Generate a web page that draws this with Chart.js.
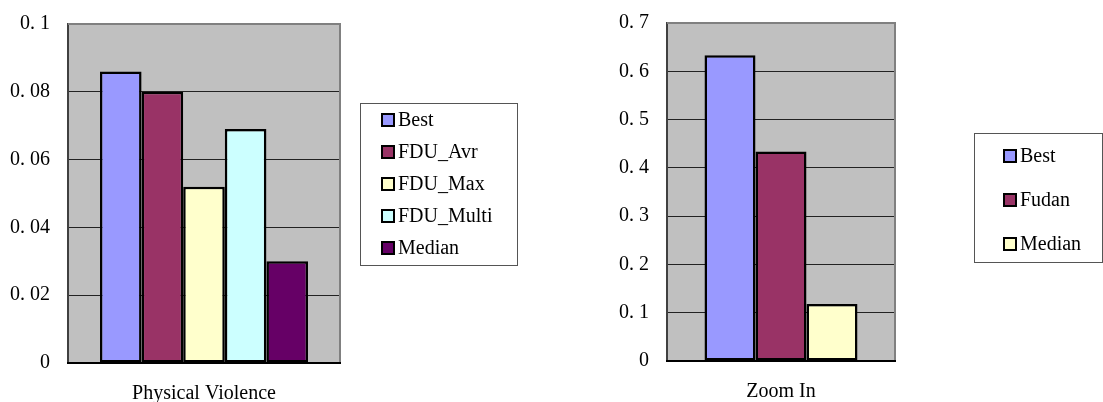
<!DOCTYPE html>
<html>
<head>
<meta charset="utf-8">
<script src="https://cdn.jsdelivr.net/npm/chart.js@4/dist/chart.umd.min.js"></script>
<style>
  html, body { margin: 0; padding: 0; background: #ffffff; }
  body { width: 1103px; height: 402px; position: relative; overflow: hidden; }
  canvas { position: absolute; top: 0; }
  #c1 { left: 0; }
  #c2 { left: 551px; }
</style>
</head>
<body>
<canvas id="c1" width="551" height="402"></canvas>
<canvas id="c2" width="552" height="402"></canvas>
<script>
// ---------- data ----------
const pvCategories = ['Physical Violence'];
const pvSeries = ['Best', 'FDU_Avr', 'FDU_Max', 'FDU_Multi', 'Median'];
const pvValues = [0.086, 0.080, 0.052, 0.069, 0.030];
const pvTickLabels = ['0', '0. 02', '0. 04', '0. 06', '0. 08', '0. 1'];

const ziCategories = ['Zoom In'];
const ziSeries = ['Best', 'Fudan', 'Median'];
const ziValues = [0.633, 0.434, 0.118];
const ziTickLabels = ['0', '0. 1', '0. 2', '0. 3', '0. 4', '0. 5', '0. 6', '0. 7'];

// ---------- styles ----------
const pvColors = ['#9999FF', '#993366', '#FFFFCC', '#CCFFFF', '#660066'];
const ziColors = ['#9999FF', '#993366', '#FFFFCC'];
const FONT = "'Liberation Serif', 'Times New Roman', serif";

const plotFrame = {
  id: 'plotFrame',
  beforeDraw(chart) {
    const a = chart.chartArea, ctx = chart.ctx;
    ctx.save();
    ctx.fillStyle = '#C0C0C0';
    ctx.fillRect(a.left, a.top, a.right - a.left, a.bottom - a.top);
    ctx.restore();
  },
  afterDraw(chart) {
    const a = chart.chartArea, ctx = chart.ctx;
    ctx.save();
    ctx.strokeStyle = '#808080';
    ctx.lineWidth = 2;
    ctx.beginPath();
    ctx.moveTo(a.left, a.top);
    ctx.lineTo(a.right, a.top);
    ctx.lineTo(a.right, a.bottom);
    ctx.stroke();
    ctx.strokeStyle = '#000';
    ctx.beginPath();
    ctx.moveTo(a.left - 1, a.bottom);
    ctx.lineTo(a.right + 1, a.bottom);
    ctx.stroke();
    ctx.restore();
  }
};

const boxLegend = {
  id: 'boxLegend',
  afterDraw(chart, args, o) {
    const ctx = chart.ctx;
    ctx.save();
    ctx.strokeStyle = '#555';
    ctx.lineWidth = 1;
    ctx.strokeRect(o.left + 0.5, o.top + 0.5, o.width, o.height);
    ctx.font = '20px ' + FONT;
    ctx.textBaseline = 'middle';
    ctx.textAlign = 'left';
    chart.data.datasets.forEach((ds, i) => {
      const cy = o.firstRow + i * o.rowGap;
      ctx.fillStyle = ds.backgroundColor;
      ctx.fillRect(o.swatchX, cy - 6, 12, 12);
      ctx.strokeStyle = '#000';
      ctx.lineWidth = 2;
      ctx.strokeRect(o.swatchX, cy - 6, 12, 12);
      ctx.fillStyle = '#000';
      ctx.fillText(ds.label, o.textX, cy + 1);
    });
    ctx.restore();
  }
};

function makeChart(id, cats, series, values, colors, tickLabels, cfg) {
  return new Chart(document.getElementById(id), {
    type: 'bar',
    data: {
      labels: cats,
      datasets: series.map((name, i) => ({
        label: name,
        data: [values[i]],
        backgroundColor: colors[i],
        borderColor: '#000',
        borderWidth: 2.5,
        borderSkipped: false,
        categoryPercentage: cfg.catPct,
        barPercentage: 1.0
      }))
    },
    options: {
      responsive: false,
      animation: false,
      devicePixelRatio: 1,
      layout: { padding: cfg.padding },
      plugins: {
        legend: { display: false },
        tooltip: { enabled: false },
        boxLegend: cfg.legend
      },
      scales: {
        x: {
          grid: { display: false, drawTicks: false },
          border: { display: false },
          ticks: { color: '#000', font: { family: FONT, size: 20 }, padding: cfg.xPad },
          afterFit(s) { s.height = cfg.xHeight; s.paddingLeft = 0; s.paddingRight = 0; }
        },
        y: {
          min: 0,
          max: cfg.max,
          ticks: {
            stepSize: cfg.step,
            color: '#000',
            font: { family: FONT, size: 20 },
            padding: 18,
            callback: (v, i) => tickLabels[i]
          },
          grid: { color: '#222', lineWidth: 1, drawTicks: false },
          border: { display: true, color: '#404040', width: 2 },
          afterFit(s) { s.width = cfg.yWidth; s.paddingTop = 0; s.paddingBottom = 0; }
        }
      }
    },
    plugins: [plotFrame, boxLegend]
  });
}

makeChart('c1', pvCategories, pvSeries, pvValues, pvColors, pvTickLabels, {
  catPct: 0.765, max: 0.1, step: 0.02,
  padding: { left: 0, top: 24, right: 211, bottom: 0 },
  yWidth: 68, xHeight: 39, xPad: 19,
  legend: { left: 360, top: 103, width: 157, height: 162, firstRow: 120, rowGap: 32, swatchX: 382, textX: 398 }
});

makeChart('c2', ziCategories, ziSeries, ziValues, ziColors, ziTickLabels, {
  catPct: 0.671, max: 0.7, step: 0.1,
  padding: { left: 0, top: 23, right: 208, bottom: 0 },
  yWidth: 116, xHeight: 41, xPad: 19,
  legend: { left: 423, top: 133, width: 128, height: 129, firstRow: 156, rowGap: 44, swatchX: 453, textX: 469 }
});
</script>
</body>
</html>
